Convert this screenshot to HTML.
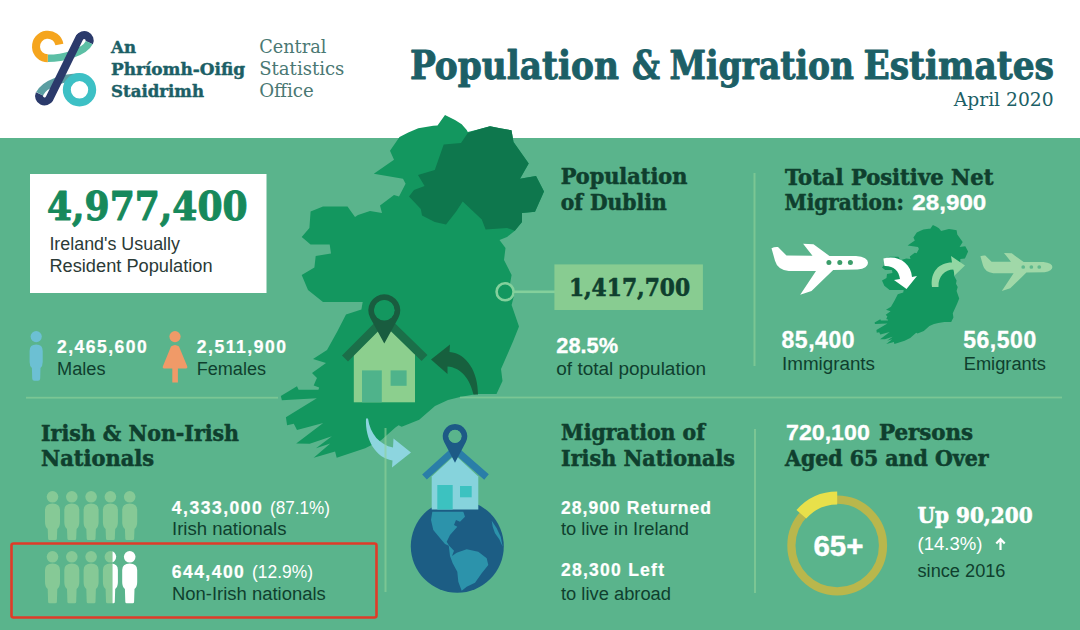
<!DOCTYPE html>
<html lang="en"><head><meta charset="utf-8"><title>Population &amp; Migration Estimates</title>
<style>html,body{margin:0;padding:0;background:#fff;}svg{display:block}</style></head>
<body><svg width="1080" height="630" viewBox="0 0 1080 630">
<rect x="0" y="0" width="1080" height="630" fill="#ffffff"/>
<rect x="0" y="138" width="1080" height="492" fill="#5ab48c"/>
<polygon points="370,211 382,213 380,205.4 394,195 399,196.5 405.6,183.8 403,178.7 373.8,173.7 394,159.7 390,150.8 399.5,137 408.3,132.5 418.3,128.3 433.3,125.8 437.5,125.6 445,115 455,120 461.7,124.2 466.7,130 467.8,132 479,129.3 490,126.3 500,128.2 511.5,130.3 513.5,142 528.7,163.5 520,178.7 536,176 544,191.4 535,211.8 522,213 522,222 514.8,230.8 507,237 499.5,240 505.5,248 504,260 511.6,275 510,284 514.6,293 511.6,305 519,326.5 513,341.6 501,369 502.5,381 496.5,394 477,394 460,397 448,400 435,406 419.2,419.7 401.7,426.8 398.6,425.2 395.4,427.6 381.1,440.3 365.2,448.3 336.7,457.8 335.1,451.4 313.7,457.8 330.3,443.5 316,448.3 331.9,436.3 309.7,443.8 296.2,443.5 323.2,422.9 297,430 293.8,423.7 287.1,425.2 285.9,417.3 316.8,398.3 281.9,400.2 280.8,395.9 297,386.3 298.6,389.8 318.4,389.8 319.2,387.6 313.7,385.6 316,380 317,378 312,373 326,363 313,359 327,350 337,332 346,314.5 361.4,309.4 362.7,302 323,302 308,290 301.7,275 314.4,267.5 315.7,256 331,253.5 329.7,244.6 310.6,244.6 301.7,237 309.4,228 310.6,211.6 323,206.5 347.5,206.5 355,217 358,215" fill="#13975f"/>
<polygon points="467.8,133 479,129.3 490,126.3 500,128.2 511.5,130.3 513.5,142 528.7,163.5 520,178.7 536,176 544,191.4 535,211.8 522,213 522,222 514.8,230.8 507,228 485.6,229.5 481.8,219.4 462.7,201.6 456,211.8 446,224.5 434.8,222 422,215.6 420.8,209 409,196.5 414,190 424.6,186 418,175 434.8,170 443.7,144.5 461,143" fill="#0e774d"/>
<rect x="26" y="396.8" width="252" height="1.8" fill="#8fd29a" opacity="0.62"/>
<rect x="460" y="396.6" width="602" height="1.8" fill="#8fd29a" opacity="0.62"/>
<rect x="753.5" y="173" width="2" height="193" fill="#8fd29a" opacity="0.62"/>
<rect x="754" y="429" width="2" height="164" fill="#8fd29a" opacity="0.62"/>
<g fill="none" stroke-linecap="butt">
<path d="M79.37,37.87 A5.5,5.5 0 0 1 89.23,42.73" stroke="#2b3a6b" stroke-width="8"/>
<path d="M49.43,98.63 A5.5,5.5 0 0 1 39.57,93.77" stroke="#2b3a6b" stroke-width="8"/>
<path d="M39.57,93.77 C44.9,83 64.5,77.2 79.5,77.2" stroke="#5b9ea2" stroke-width="7.5"/>
<path d="M89.23,42.73 C84.5,52.5 62.8,58.3 47.8,58.3" stroke="#5cbfa5" stroke-width="7.5"/>
<circle cx="79.5" cy="89.8" r="12.7" stroke="#3dc0c5" stroke-width="8"/>
<path d="M59.42,44.45 A11.8,11.8 0 1 0 47.8,58.3" stroke="#f5a51e" stroke-width="8"/>
<path d="M79.37,37.87 L49.43,98.63" stroke="#2b3a6b" stroke-width="8" stroke-linecap="round"/>
</g>
<text x="111" y="52.5" font-family="'DejaVu Serif Condensed','DejaVu Serif','Liberation Serif',serif" font-size="17.2" font-weight="bold" fill="#1c5f66" stroke="#1c5f66" stroke-width="0.41" stroke-linejoin="round" textLength="25" lengthAdjust="spacingAndGlyphs">An</text>
<text x="111" y="75" font-family="'DejaVu Serif Condensed','DejaVu Serif','Liberation Serif',serif" font-size="17.2" font-weight="bold" fill="#1c5f66" stroke="#1c5f66" stroke-width="0.41" stroke-linejoin="round" textLength="134" lengthAdjust="spacingAndGlyphs">Phríomh-Oifig</text>
<text x="111" y="97" font-family="'DejaVu Serif Condensed','DejaVu Serif','Liberation Serif',serif" font-size="17.2" font-weight="bold" fill="#1c5f66" stroke="#1c5f66" stroke-width="0.41" stroke-linejoin="round" textLength="93" lengthAdjust="spacingAndGlyphs">Staidrimh</text>
<text x="259.2" y="53.3" font-family="'DejaVu Serif Condensed','DejaVu Serif','Liberation Serif',serif" font-size="19" font-weight="normal" fill="#4a7873" textLength="67.2" lengthAdjust="spacingAndGlyphs">Central</text>
<text x="259.2" y="75" font-family="'DejaVu Serif Condensed','DejaVu Serif','Liberation Serif',serif" font-size="19" font-weight="normal" fill="#4a7873" textLength="85.2" lengthAdjust="spacingAndGlyphs">Statistics</text>
<text x="259.2" y="96.7" font-family="'DejaVu Serif Condensed','DejaVu Serif','Liberation Serif',serif" font-size="19" font-weight="normal" fill="#4a7873" textLength="54.6" lengthAdjust="spacingAndGlyphs">Office</text>
<text y="79.3" font-family="'DejaVu Serif Condensed','DejaVu Serif','Liberation Serif',serif" font-size="38.4" font-weight="bold" fill="#1c5f66" stroke="#1c5f66" stroke-width="0.9" stroke-linejoin="round"><tspan x="410" textLength="209" lengthAdjust="spacingAndGlyphs">Population</tspan> <tspan x="632" textLength="28" lengthAdjust="spacingAndGlyphs">&amp;</tspan> <tspan x="669.500" textLength="184.500" lengthAdjust="spacingAndGlyphs">Migration</tspan> <tspan x="863.500" textLength="190.500" lengthAdjust="spacingAndGlyphs">Estimates</tspan></text>
<text x="953.7" y="105.8" font-family="'DejaVu Serif Condensed','DejaVu Serif','Liberation Serif',serif" font-size="19" font-weight="normal" fill="#1c5f66" textLength="100" lengthAdjust="spacingAndGlyphs">April 2020</text>
<rect x="30" y="174" width="236.5" height="119" fill="#ffffff"/>
<text x="47" y="220.2" font-family="'DejaVu Serif Condensed','DejaVu Serif','Liberation Serif',serif" font-size="40" font-weight="bold" fill="#17895b" stroke="#17895b" stroke-width="0.96" stroke-linejoin="round" textLength="200.5" lengthAdjust="spacingAndGlyphs">4,977,400</text>
<text x="49.4" y="250.3" font-family="'Liberation Sans',sans-serif" font-size="17.5" font-weight="normal" fill="#2b3a36" textLength="130.6" lengthAdjust="spacingAndGlyphs">Ireland's Usually</text>
<text x="49.4" y="272" font-family="'Liberation Sans',sans-serif" font-size="17.5" font-weight="normal" fill="#2b3a36" textLength="163.2" lengthAdjust="spacingAndGlyphs">Resident Population</text>
<g fill="#6cc0d3"><circle cx="36.2" cy="336.6" r="5.6"/><path d="M29.600,351 Q29.600,344.600 36.200,344.600 Q42.700,344.600 42.700,351 L42.700,362 Q42.700,366 40.500,368 L40.200,378.500 Q40.200,380.800 38,380.800 L34.400,380.800 Q32.200,380.800 32.200,378.500 L31.900,368 Q29.600,366 29.600,362 Z"/></g>
<g fill="#f09a68"><circle cx="175" cy="336.6" r="5.6"/><path d="M171,346.500 Q175,343.500 179,346.500 L187.300,366.500 Q187.800,368.400 186,368.400 L177.900,368.400 L177.900,382.500 L172.300,382.500 L172.300,368.400 L164,368.400 Q162.300,368.400 162.800,366.500 Z"/></g>
<text x="57" y="352.8" font-family="'Liberation Sans',sans-serif" font-size="17.5" font-weight="bold" fill="#ffffff" stroke="#ffffff" stroke-width="0.24" stroke-linejoin="round" textLength="89.7" lengthAdjust="spacing">2,465,600</text>
<text x="57" y="374.6" font-family="'Liberation Sans',sans-serif" font-size="18" font-weight="normal" fill="#0f3f2e" textLength="48.5" lengthAdjust="spacingAndGlyphs">Males</text>
<text x="196.7" y="352.8" font-family="'Liberation Sans',sans-serif" font-size="17.5" font-weight="bold" fill="#ffffff" stroke="#ffffff" stroke-width="0.24" stroke-linejoin="round" textLength="89.3" lengthAdjust="spacing">2,511,900</text>
<text x="196.7" y="374.6" font-family="'Liberation Sans',sans-serif" font-size="18" font-weight="normal" fill="#0f3f2e" textLength="69.3" lengthAdjust="spacingAndGlyphs">Females</text>
<text x="41" y="440.6" font-family="'DejaVu Serif Condensed','DejaVu Serif','Liberation Serif',serif" font-size="21.5" font-weight="bold" fill="#0f3f2e" stroke="#0f3f2e" stroke-width="0.52" stroke-linejoin="round" textLength="198" lengthAdjust="spacingAndGlyphs">Irish &amp; Non-Irish</text>
<text x="41" y="465.8" font-family="'DejaVu Serif Condensed','DejaVu Serif','Liberation Serif',serif" font-size="21.5" font-weight="bold" fill="#0f3f2e" stroke="#0f3f2e" stroke-width="0.52" stroke-linejoin="round" textLength="113" lengthAdjust="spacingAndGlyphs">Nationals</text>
<defs><clipPath id="cl"><rect x="0" y="540" width="112.5" height="80"/></clipPath><clipPath id="cr"><rect x="112.5" y="540" width="100" height="80"/></clipPath></defs>
<g fill="#86c996"><circle cx="52.5" cy="496.8" r="5.8"/><path d="M45.0,510 Q45.0,503.5 52.5,503.5 Q60.0,503.5 60.0,510 L60.0,522 Q60.0,527 57.3,529 L56.9,538.5 Q56.9,540 55.5,540 L49.5,540 Q48.1,540 48.1,538.5 L47.7,529 Q45.0,527 45.0,522 Z"/></g>
<g fill="#86c996"><circle cx="71.8" cy="496.8" r="5.8"/><path d="M64.3,510 Q64.3,503.5 71.8,503.5 Q79.3,503.5 79.3,510 L79.3,522 Q79.3,527 76.6,529 L76.2,538.5 Q76.2,540 74.8,540 L68.8,540 Q67.39999999999999,540 67.39999999999999,538.5 L67.0,529 Q64.3,527 64.3,522 Z"/></g>
<g fill="#86c996"><circle cx="91.1" cy="496.8" r="5.8"/><path d="M83.6,510 Q83.6,503.5 91.1,503.5 Q98.6,503.5 98.6,510 L98.6,522 Q98.6,527 95.89999999999999,529 L95.5,538.5 Q95.5,540 94.1,540 L88.1,540 Q86.69999999999999,540 86.69999999999999,538.5 L86.3,529 Q83.6,527 83.6,522 Z"/></g>
<g fill="#86c996"><circle cx="110.4" cy="496.8" r="5.8"/><path d="M102.9,510 Q102.9,503.5 110.4,503.5 Q117.9,503.5 117.9,510 L117.9,522 Q117.9,527 115.2,529 L114.80000000000001,538.5 Q114.80000000000001,540 113.4,540 L107.4,540 Q106.0,540 106.0,538.5 L105.60000000000001,529 Q102.9,527 102.9,522 Z"/></g>
<g fill="#86c996"><circle cx="129.7" cy="496.8" r="5.8"/><path d="M122.19999999999999,510 Q122.19999999999999,503.5 129.7,503.5 Q137.2,503.5 137.2,510 L137.2,522 Q137.2,527 134.5,529 L134.1,538.5 Q134.1,540 132.7,540 L126.69999999999999,540 Q125.29999999999998,540 125.29999999999998,538.5 L124.89999999999999,529 Q122.19999999999999,527 122.19999999999999,522 Z"/></g>
<g fill="#86c996"><circle cx="52.5" cy="556.8" r="5.8"/><path d="M45.0,570 Q45.0,563.5 52.5,563.5 Q60.0,563.5 60.0,570 L60.0,582 Q60.0,587 57.3,589 L56.9,601.8 Q56.9,603.3 55.5,603.3 L49.5,603.3 Q48.1,603.3 48.1,601.8 L47.7,589 Q45.0,587 45.0,582 Z"/></g>
<g fill="#86c996"><circle cx="71.8" cy="556.8" r="5.8"/><path d="M64.3,570 Q64.3,563.5 71.8,563.5 Q79.3,563.5 79.3,570 L79.3,582 Q79.3,587 76.6,589 L76.2,601.8 Q76.2,603.3 74.8,603.3 L68.8,603.3 Q67.39999999999999,603.3 67.39999999999999,601.8 L67.0,589 Q64.3,587 64.3,582 Z"/></g>
<g fill="#86c996"><circle cx="91.1" cy="556.8" r="5.8"/><path d="M83.6,570 Q83.6,563.5 91.1,563.5 Q98.6,563.5 98.6,570 L98.6,582 Q98.6,587 95.89999999999999,589 L95.5,601.8 Q95.5,603.3 94.1,603.3 L88.1,603.3 Q86.69999999999999,603.3 86.69999999999999,601.8 L86.3,589 Q83.6,587 83.6,582 Z"/></g>
<g fill="#86c996" clip-path="url(#cl)"><circle cx="110.4" cy="556.8" r="5.8"/><path d="M102.9,570 Q102.9,563.5 110.4,563.5 Q117.9,563.5 117.9,570 L117.9,582 Q117.9,587 115.2,589 L114.80000000000001,601.8 Q114.80000000000001,603.3 113.4,603.3 L107.4,603.3 Q106.0,603.3 106.0,601.8 L105.60000000000001,589 Q102.9,587 102.9,582 Z"/></g>
<g fill="#ffffff" clip-path="url(#cr)"><circle cx="110.4" cy="556.8" r="5.8"/><path d="M102.9,570 Q102.9,563.5 110.4,563.5 Q117.9,563.5 117.9,570 L117.9,582 Q117.9,587 115.2,589 L114.80000000000001,601.8 Q114.80000000000001,603.3 113.4,603.3 L107.4,603.3 Q106.0,603.3 106.0,601.8 L105.60000000000001,589 Q102.9,587 102.9,582 Z"/></g>
<g fill="#ffffff"><circle cx="129.7" cy="556.8" r="5.8"/><path d="M122.19999999999999,570 Q122.19999999999999,563.5 129.7,563.5 Q137.2,563.5 137.2,570 L137.2,582 Q137.2,587 134.5,589 L134.1,601.8 Q134.1,603.3 132.7,603.3 L126.69999999999999,603.3 Q125.29999999999998,603.3 125.29999999999998,601.8 L124.89999999999999,589 Q122.19999999999999,587 122.19999999999999,582 Z"/></g>
<text x="171.8" y="514" font-family="'Liberation Sans',sans-serif" font-size="17.5" font-weight="bold" fill="#ffffff" stroke="#ffffff" stroke-width="0.24" stroke-linejoin="round" textLength="90" lengthAdjust="spacing">4,333,000</text>
<text x="270" y="514" font-family="'Liberation Sans',sans-serif" font-size="17.5" font-weight="normal" fill="#ffffff" textLength="60" lengthAdjust="spacingAndGlyphs">(87.1%)</text>
<text x="172" y="535.3" font-family="'Liberation Sans',sans-serif" font-size="18" font-weight="normal" fill="#0f3f2e" textLength="114.5" lengthAdjust="spacingAndGlyphs">Irish nationals</text>
<text x="171.8" y="578" font-family="'Liberation Sans',sans-serif" font-size="17.5" font-weight="bold" fill="#ffffff" stroke="#ffffff" stroke-width="0.24" stroke-linejoin="round" textLength="72" lengthAdjust="spacing">644,400</text>
<text x="252" y="578" font-family="'Liberation Sans',sans-serif" font-size="17.5" font-weight="normal" fill="#ffffff" textLength="61" lengthAdjust="spacingAndGlyphs">(12.9%)</text>
<text x="172" y="599.8" font-family="'Liberation Sans',sans-serif" font-size="18" font-weight="normal" fill="#0f3f2e" textLength="153.7" lengthAdjust="spacingAndGlyphs">Non-Irish nationals</text>
<rect x="11.5" y="543.5" width="365" height="74" rx="2" fill="none" stroke="#e03b28" stroke-width="2.6"/>
<g>
<rect x="353.8" y="354" width="61.2" height="48.3" fill="#8ccf8e"/>
<polygon points="353.8,354.5 384.4,324 415,354.5" fill="#8ccf8e"/>
<rect x="362" y="370.4" width="19.8" height="31.9" fill="#4fb38b"/>
<rect x="390.6" y="370.4" width="16" height="15.4" fill="#4fb38b"/>
<path d="M345,358.500 L384.4,319 L424.500,358" fill="none" stroke="#1b6f49" stroke-width="8.5"/>
<path d="M384.3,343.5 L370.28,318.01 A16,16 0 1 1 398.32,318.01 Z M374.3,310.3 a10,10 0 1 0 20,0 a10,10 0 1 0 -20,0 Z" fill="#195c3f" fill-rule="evenodd"/>
<circle cx="384.3" cy="310.3" r="10.3" fill="#13975f"/>
</g>
<path d="M431,359.5 L450,344.5 L449.500,352 C467,353.500 478,372 478,394.500 L473.500,394.500 C470,379 461,367.500 447.500,366.500 L447.500,374 Z" fill="#17603e"/>
<path d="M366,418.500 C365,440 376,458 392.500,460.500 L392,467.500 L411,452.500 L393.500,438.500 L393,447.500 C380,445 370,434 368,418.500 Z" fill="#8dd5df"/>
<rect x="384.5" y="428" width="2" height="164" fill="#8fd29a" opacity="0.62"/>
<circle cx="457.3" cy="546.2" r="46.5" fill="#1c5d84"/>
<polygon points="432.3,511.7 463.3,511.7 465.0,516.7 460.0,521.7 456.0,520.0 454.0,525.0 457.3,526.7 450.0,535.0 446.7,541.7 449.3,546.0 445.0,544.0 439.3,537.3 433.3,530.0 431.0,520.0" fill="#2c93ab"/>
<polygon points="448.7,545.3 454.0,550.7 452.0,556.0 456.7,552.7 466.7,549.3 478.3,551.7 486.7,558.3 488.3,565.0 481.7,573.3 475.0,582.7 466.7,586.7 461.7,590.7 458.3,581.7 457.3,571.7 452.7,563.3 450.0,556.0" fill="#2c93ab"/>
<polygon points="491.7,520.7 496.7,528.3 500.7,536.7 502.7,546.7 499.3,539.3 495.0,533.3 492.7,526.7" fill="#2c93ab"/>
<rect x="431.7" y="476" width="46.6" height="33.5" fill="#86d3dc"/>
<polygon points="431.7,476.500 455,455 478.3,476.500" fill="#86d3dc"/>
<rect x="437.3" y="485" width="15.4" height="24.500" fill="#3cc2c0"/>
<rect x="460" y="486" width="11.7" height="11.3" fill="#3cc2c0"/>
<path d="M424.500,477 L455,449.500 L486.500,477" fill="none" stroke="#2a7ea8" stroke-width="7"/>
<path d="M455,462.7 L444.12,442.03 A12.3,12.3 0 1 1 465.88,442.03 Z M448.7,436.3 a6.3,6.3 0 1 0 12.6,0 a6.3,6.3 0 1 0 -12.6,0 Z" fill="#1d5a86" fill-rule="evenodd"/>
<circle cx="455" cy="436.3" r="6.6" fill="#5ab48c"/>
<text x="560.7" y="184" font-family="'DejaVu Serif Condensed','DejaVu Serif','Liberation Serif',serif" font-size="21.5" font-weight="bold" fill="#0f3f2e" stroke="#0f3f2e" stroke-width="0.52" stroke-linejoin="round" textLength="126.7" lengthAdjust="spacingAndGlyphs">Population</text>
<text x="560.7" y="210.2" font-family="'DejaVu Serif Condensed','DejaVu Serif','Liberation Serif',serif" font-size="21.5" font-weight="bold" fill="#0f3f2e" stroke="#0f3f2e" stroke-width="0.52" stroke-linejoin="round" textLength="106" lengthAdjust="spacingAndGlyphs">of Dublin</text>
<rect x="514" y="290.500" width="42" height="2.6" fill="#84d09c"/>
<circle cx="505.1" cy="291.8" r="8.5" fill="#13975f" stroke="#84d09c" stroke-width="2.6"/>
<rect x="554.4" y="264.4" width="148.5" height="45.6" fill="#88cc91"/>
<text x="568.9" y="295.7" font-family="'DejaVu Serif Condensed','DejaVu Serif','Liberation Serif',serif" font-size="25" font-weight="bold" fill="#0f3f2e" stroke="#0f3f2e" stroke-width="0.6" stroke-linejoin="round" textLength="121.2" lengthAdjust="spacingAndGlyphs">1,417,700</text>
<text x="556.3" y="352.7" font-family="'Liberation Sans',sans-serif" font-size="22.3" font-weight="bold" fill="#ffffff" stroke="#ffffff" stroke-width="0.31" stroke-linejoin="round" textLength="61.7" lengthAdjust="spacingAndGlyphs">28.5%</text>
<text x="556.3" y="374.7" font-family="'Liberation Sans',sans-serif" font-size="18" font-weight="normal" fill="#0f3f2e" textLength="149.7" lengthAdjust="spacingAndGlyphs">of total population</text>
<text x="785" y="184.5" font-family="'DejaVu Serif Condensed','DejaVu Serif','Liberation Serif',serif" font-size="21.5" font-weight="bold" fill="#0f3f2e" stroke="#0f3f2e" stroke-width="0.52" stroke-linejoin="round" textLength="208.4" lengthAdjust="spacingAndGlyphs">Total Positive Net</text>
<text x="784.6" y="210.2" font-family="'DejaVu Serif Condensed','DejaVu Serif','Liberation Serif',serif" font-size="21.5" font-weight="bold" fill="#0f3f2e" stroke="#0f3f2e" stroke-width="0.52" stroke-linejoin="round" textLength="119.2" lengthAdjust="spacingAndGlyphs">Migration:</text>
<text x="912.3" y="210.2" font-family="'Liberation Sans',sans-serif" font-size="21.8" font-weight="bold" fill="#ffffff" stroke="#ffffff" stroke-width="0.31" stroke-linejoin="round" textLength="74" lengthAdjust="spacingAndGlyphs">28,900</text>
<g transform="translate(771.5,243.7) scale(1.0)" fill="#ffffff"><path d="M0,4.6 Q3,3 6.5,3.4 L15,11.8 L41,12 L31.6,0 L42,0.6 L58,12.3 L84.5,12.3 Q96.5,13.5 96.5,19 Q96.5,24.5 86,25.8 L61.7,26.4 L40,47.4 L28.7,51.1 L44.5,27.3 L17.2,27.3 Q6,26 3.5,17 Z"/><g fill="#3b9d6a"><circle cx="57.4" cy="18.9" r="2.5"/><circle cx="68.3" cy="18.9" r="2.5"/><circle cx="78.9" cy="18.9" r="2.5"/></g></g>
<g transform="translate(980.4,252.9) scale(0.746)" fill="#a0d8a8"><path d="M0,4.6 Q3,3 6.5,3.4 L15,11.8 L41,12 L31.6,0 L42,0.6 L58,12.3 L84.5,12.3 Q96.5,13.5 96.5,19 Q96.5,24.5 86,25.8 L61.7,26.4 L40,47.4 L28.7,51.1 L44.5,27.3 L17.2,27.3 Q6,26 3.5,17 Z"/><g fill="#5fb98d"><circle cx="57.4" cy="18.9" r="2.5"/><circle cx="68.3" cy="18.9" r="2.5"/><circle cx="78.9" cy="18.9" r="2.5"/></g></g>
<polygon points="906.3,258.4 910.5,259.1 909.8,256.4 914.8,252.8 916.6,253.3 918.9,248.9 918.0,247.1 907.6,245.4 914.8,240.5 913.4,237.4 916.8,232.6 919.9,231.1 923.4,229.6 928.8,228.8 930.3,228.7 932.9,225.0 936.5,226.7 938.9,228.2 940.6,230.2 941.0,230.9 945.0,230.0 948.9,228.9 952.5,229.6 956.6,230.3 957.3,234.4 962.7,241.9 959.6,247.1 965.3,246.2 968.1,251.6 964.9,258.6 960.3,259.1 960.3,262.2 957.7,265.2 955.0,267.4 952.3,268.4 954.4,271.2 953.9,275.4 956.6,280.6 956.0,283.7 957.7,286.9 956.6,291.0 959.2,298.5 957.1,303.7 952.8,313.3 953.4,317.4 951.2,322.0 944.3,322.0 938.3,323.0 934.0,324.0 929.4,326.1 923.8,330.9 917.5,333.4 916.4,332.8 915.3,333.6 910.2,338.0 904.6,340.8 894.4,344.1 893.9,341.9 886.3,344.1 892.2,339.2 887.1,340.8 892.7,336.7 884.9,339.3 880.1,339.2 889.7,332.0 880.3,334.5 879.2,332.3 876.8,332.8 876.4,330.1 887.4,323.5 875.0,324.1 874.6,322.6 880.3,319.3 880.9,320.5 887.9,320.5 888.2,319.7 886.3,319.0 887.1,317.1 887.4,316.4 885.7,314.7 890.6,311.2 886.0,309.8 891.0,306.7 894.6,300.4 897.8,294.3 903.2,292.6 903.7,290.0 889.6,290.0 884.3,285.8 882.0,280.6 886.5,278.0 887.0,274.0 892.4,273.1 892.0,270.0 885.2,270.0 882.0,267.4 884.7,264.3 885.2,258.6 889.6,256.8 898.3,256.8 900.9,260.4 902.0,259.8" fill="#13975f"/>
<path d="M883.4,258.500 C898,254.500 911,263 912,277 L917,276 L906.500,289 L894,280 L900,279 C899,270.500 893,265.500 884.500,266 Z" fill="#ffffff"/>
<path d="M932,287 C930,272 939,262.500 952,262.500 L951,256 L965,265.500 L954.500,275.500 L953.500,269.500 C945,269.500 938,276 938.500,287 Z" fill="#93d7a3"/>
<text x="781.5" y="348.2" font-family="'Liberation Sans',sans-serif" font-size="23" font-weight="bold" fill="#ffffff" stroke="#ffffff" stroke-width="0.32" stroke-linejoin="round" textLength="73" lengthAdjust="spacing">85,400</text>
<text x="782" y="370.4" font-family="'Liberation Sans',sans-serif" font-size="18" font-weight="normal" fill="#0f3f2e" textLength="93" lengthAdjust="spacingAndGlyphs">Immigrants</text>
<text x="963.2" y="348.2" font-family="'Liberation Sans',sans-serif" font-size="23" font-weight="bold" fill="#ffffff" stroke="#ffffff" stroke-width="0.32" stroke-linejoin="round" textLength="73" lengthAdjust="spacing">56,500</text>
<text x="963.7" y="370.4" font-family="'Liberation Sans',sans-serif" font-size="18" font-weight="normal" fill="#0f3f2e" textLength="82.3" lengthAdjust="spacingAndGlyphs">Emigrants</text>
<text x="561" y="440.4" font-family="'DejaVu Serif Condensed','DejaVu Serif','Liberation Serif',serif" font-size="21.5" font-weight="bold" fill="#0f3f2e" stroke="#0f3f2e" stroke-width="0.52" stroke-linejoin="round" textLength="144" lengthAdjust="spacingAndGlyphs">Migration of</text>
<text x="561" y="465.8" font-family="'DejaVu Serif Condensed','DejaVu Serif','Liberation Serif',serif" font-size="21.5" font-weight="bold" fill="#0f3f2e" stroke="#0f3f2e" stroke-width="0.52" stroke-linejoin="round" textLength="174" lengthAdjust="spacingAndGlyphs">Irish Nationals</text>
<text x="561" y="513.5" font-family="'Liberation Sans',sans-serif" font-size="17.5" font-weight="bold" fill="#ffffff" stroke="#ffffff" stroke-width="0.24" stroke-linejoin="round" textLength="150" lengthAdjust="spacing">28,900 Returned</text>
<text x="561" y="535.3" font-family="'Liberation Sans',sans-serif" font-size="18" font-weight="normal" fill="#0f3f2e" textLength="128" lengthAdjust="spacingAndGlyphs">to live in Ireland</text>
<text x="561" y="576" font-family="'Liberation Sans',sans-serif" font-size="17.5" font-weight="bold" fill="#ffffff" stroke="#ffffff" stroke-width="0.24" stroke-linejoin="round" textLength="103" lengthAdjust="spacing">28,300 Left</text>
<text x="561" y="600" font-family="'Liberation Sans',sans-serif" font-size="18" font-weight="normal" fill="#0f3f2e" textLength="110" lengthAdjust="spacingAndGlyphs">to live abroad</text>
<text x="786" y="440.2" font-family="'Liberation Sans',sans-serif" font-size="21.8" font-weight="bold" fill="#ffffff" stroke="#ffffff" stroke-width="0.31" stroke-linejoin="round" textLength="83.8" lengthAdjust="spacingAndGlyphs">720,100</text>
<text x="879" y="440.4" font-family="'DejaVu Serif Condensed','DejaVu Serif','Liberation Serif',serif" font-size="21.5" font-weight="bold" fill="#0f3f2e" stroke="#0f3f2e" stroke-width="0.52" stroke-linejoin="round" textLength="94" lengthAdjust="spacingAndGlyphs">Persons</text>
<text x="785" y="465.8" font-family="'DejaVu Serif Condensed','DejaVu Serif','Liberation Serif',serif" font-size="21.5" font-weight="bold" fill="#0f3f2e" stroke="#0f3f2e" stroke-width="0.52" stroke-linejoin="round" textLength="203.5" lengthAdjust="spacingAndGlyphs">Aged 65 and Over</text>
<circle cx="837.2" cy="545.5" r="45.8" fill="none" stroke="#b9b74c" stroke-width="8.2"/>
<path d="M801.35,514.34 A47.5,47.5 0 0 1 837.20,498.00" fill="none" stroke="#e8e04a" stroke-width="13"/>
<text x="813.4" y="555.7" font-family="'Liberation Sans',sans-serif" font-size="29" font-weight="bold" fill="#ffffff" stroke="#ffffff" stroke-width="0.41" stroke-linejoin="round" textLength="50" lengthAdjust="spacingAndGlyphs">65+</text>
<text x="917.6" y="522.8" font-family="'DejaVu Serif Condensed','DejaVu Serif','Liberation Serif',serif" font-size="21.5" font-weight="bold" fill="#ffffff" stroke="#ffffff" stroke-width="0.52" stroke-linejoin="round" textLength="115" lengthAdjust="spacingAndGlyphs">Up 90,200</text>
<text x="917.5" y="550" font-family="'Liberation Sans',sans-serif" font-size="18" font-weight="normal" fill="#ffffff" textLength="65" lengthAdjust="spacingAndGlyphs">(14.3%)</text>
<path d="M1000.500,550 L1000.500,539.500 M996.300,543.500 L1000.500,539 L1004.700,543.500" fill="none" stroke="#ffffff" stroke-width="2.2"/>
<text x="917.5" y="576.5" font-family="'Liberation Sans',sans-serif" font-size="18" font-weight="normal" fill="#0f3f2e" textLength="88" lengthAdjust="spacingAndGlyphs">since 2016</text>
</svg></body></html>
